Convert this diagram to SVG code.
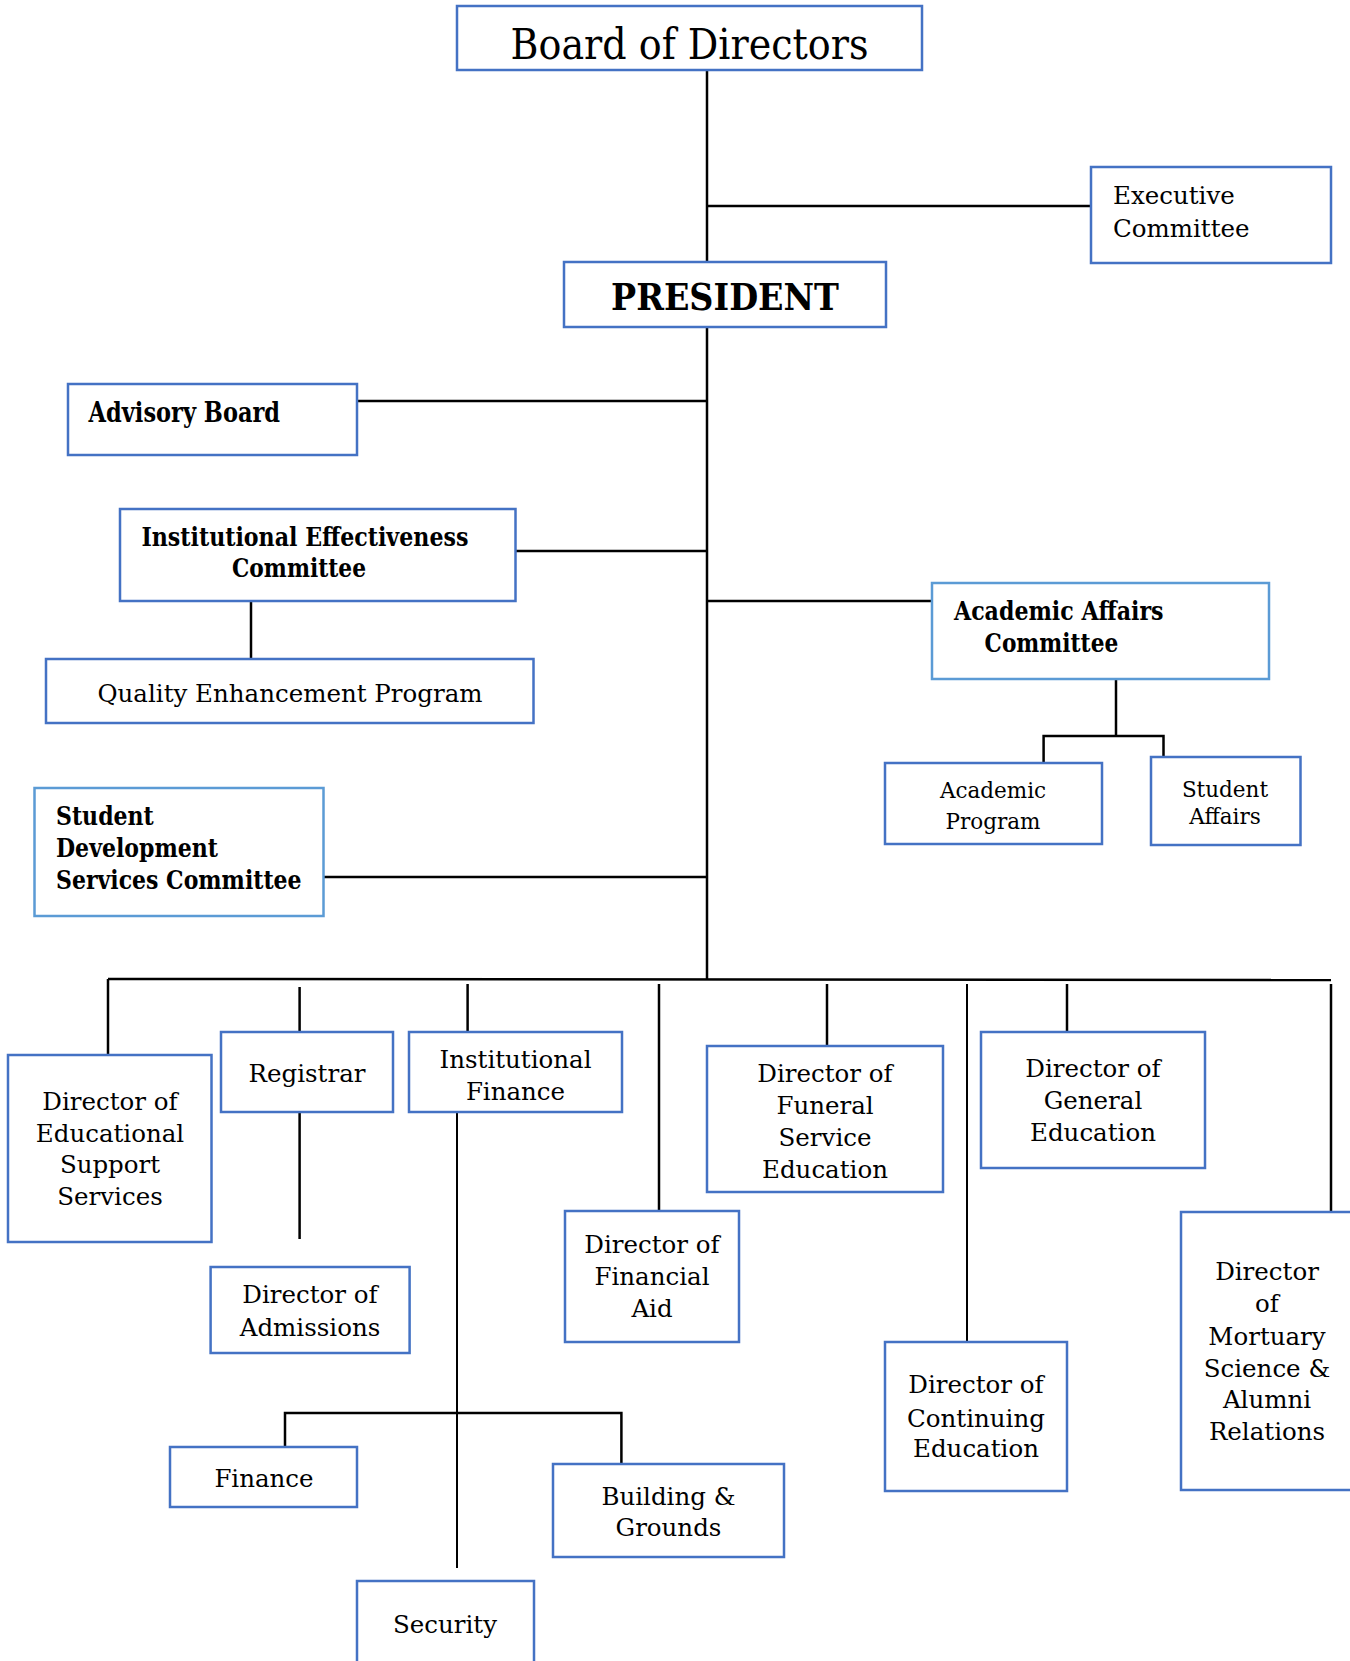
<svg xmlns="http://www.w3.org/2000/svg" width="1350" height="1661" viewBox="0 0 1350 1661">
<style>
.box{fill:#fff;stroke:#4472c4;stroke-width:2.5}
.lbox{fill:#fff;stroke:#5b9bd5;stroke-width:2.5}
.t{font-family:"DejaVu Serif","Liberation Serif",serif;font-size:24.5px;fill:#000}
.c{text-anchor:middle}
.b{font-weight:bold;font-size:26px}
.s{font-size:21.5px}
.ln{stroke:#000;stroke-width:2.5;fill:none}
</style>
<rect width="1350" height="1661" fill="#fff"/>
<g id="connectors">
<path class="ln" d="M707,70V262"/>
<path class="ln" d="M707,206H1091"/>
<path class="ln" d="M707,327V980"/>
<path class="ln" d="M357,401H707"/>
<path class="ln" d="M515,551H707"/>
<path class="ln" d="M251,601V659"/>
<path class="ln" d="M707,601H932"/>
<path class="ln" d="M1116,679V736"/>
<path class="ln" d="M1043.6,763V736H1163.5V757"/>
<path class="ln" d="M324,877H707"/>
<path class="ln" d="M108,979L1331,980"/>
<path class="ln" d="M108,979V1055"/>
<path class="ln" d="M299.6,987V1032"/>
<path class="ln" d="M299.6,1112V1239"/>
<path class="ln" d="M467.6,984V1032"/>
<path class="ln" d="M457,1112V1568" style="stroke-width:2"/>
<path class="ln" d="M285,1447V1413H621.4V1464"/>
<path class="ln" d="M659,984V1211"/>
<path class="ln" d="M827,984V1046"/>
<path class="ln" d="M967,984V1342" style="stroke-width:2"/>
<path class="ln" d="M1067,984V1032"/>
<path class="ln" d="M1331,984V1211"/>
</g>
<g id="board"><rect class="box" x="457" y="6" width="465" height="64"/><text class="t c" x="689.5" y="59" style="font-size:42px" textLength="358" lengthAdjust="spacingAndGlyphs">Board of Directors</text></g>
<g id="president"><rect class="box" x="564" y="262" width="322" height="65"/><text class="t c b" x="725" y="310" style="font-size:37px" textLength="228" lengthAdjust="spacingAndGlyphs">PRESIDENT</text></g>
<g id="executive"><rect class="box" x="1091" y="167" width="240" height="96"/><text class="t" x="1113" y="204">Executive</text><text class="t" x="1113" y="237">Committee</text></g>
<g id="advisory"><rect class="box" x="68" y="384" width="289" height="71"/><text class="t b" x="88.6" y="421.7" style="font-size:27px" textLength="191.5" lengthAdjust="spacingAndGlyphs">Advisory Board</text></g>
<g id="iec"><rect class="box" x="120" y="509" width="395.5" height="92"/><text class="t b" x="141.4" y="545.7" textLength="327" lengthAdjust="spacingAndGlyphs">Institutional Effectiveness</text><text class="t b" x="232" y="577.3" textLength="134" lengthAdjust="spacingAndGlyphs">Committee</text></g>
<g id="qep"><rect class="box" x="46" y="659" width="487.5" height="64"/><text class="t c" x="290" y="701.7">Quality Enhancement Program</text></g>
<g id="academic-affairs"><rect class="lbox" x="932" y="583" width="337" height="96"/><text class="t b" x="954" y="620" textLength="209.5" lengthAdjust="spacingAndGlyphs">Academic Affairs</text><text class="t b" x="984.6" y="651.7" textLength="133.7" lengthAdjust="spacingAndGlyphs">Committee</text></g>
<g id="academic-program"><rect class="box" x="885" y="763" width="217" height="81"/><text class="t c s" x="993" y="798.3">Academic</text><text class="t c s" x="993" y="829.3">Program</text></g>
<g id="student-affairs"><rect class="box" x="1151" y="757" width="149.5" height="88"/><text class="t c s" x="1225" y="796.7">Student</text><text class="t c s" x="1225" y="824.3">Affairs</text></g>
<g id="sdsc"><rect class="lbox" x="34.5" y="788" width="289" height="128"/><text class="t b" x="56" y="825" textLength="97.8" lengthAdjust="spacingAndGlyphs">Student</text><text class="t b" x="56" y="857.3" textLength="162" lengthAdjust="spacingAndGlyphs">Development</text><text class="t b" x="56" y="889" textLength="245.6" lengthAdjust="spacingAndGlyphs">Services Committee</text></g>
<g id="dir-educational"><rect class="box" x="8" y="1055" width="203.5" height="187"/><text class="t c" x="110" y="1110">Director of</text><text class="t c" x="110" y="1141.7">Educational</text><text class="t c" x="110" y="1173.3">Support</text><text class="t c" x="110" y="1205">Services</text></g>
<g id="registrar"><rect class="box" x="221" y="1032" width="172" height="80"/><text class="t c" x="307" y="1081.7">Registrar</text></g>
<g id="inst-finance"><rect class="box" x="409" y="1032" width="213" height="80"/><text class="t c" x="515.5" y="1068.3">Institutional</text><text class="t c" x="515.5" y="1100">Finance</text></g>
<g id="admissions"><rect class="box" x="210.6" y="1267" width="199" height="86"/><text class="t c" x="310" y="1303.3">Director of</text><text class="t c" x="310" y="1335.7">Admissions</text></g>
<g id="financial-aid"><rect class="box" x="565" y="1211" width="174" height="131"/><text class="t c" x="652" y="1252.7">Director of</text><text class="t c" x="652" y="1285">Financial</text><text class="t c" x="652" y="1317.3">Aid</text></g>
<g id="funeral"><rect class="box" x="707" y="1046" width="236" height="146"/><text class="t c" x="825" y="1081.7">Director of</text><text class="t c" x="825" y="1114">Funeral</text><text class="t c" x="825" y="1146">Service</text><text class="t c" x="825" y="1178.3">Education</text></g>
<g id="general"><rect class="box" x="981" y="1032" width="224" height="136"/><text class="t c" x="1093" y="1076.7">Director of</text><text class="t c" x="1093" y="1109">General</text><text class="t c" x="1093" y="1141">Education</text></g>
<g id="continuing"><rect class="box" x="885" y="1342" width="182" height="149"/><text class="t c" x="976" y="1393.3">Director of</text><text class="t c" x="976" y="1426.7">Continuing</text><text class="t c" x="976" y="1457.3">Education</text></g>
<g id="mortuary"><rect class="box" x="1181" y="1212" width="171" height="278"/><text class="t c" x="1267" y="1280">Director</text><text class="t c" x="1267" y="1311.7">of</text><text class="t c" x="1267" y="1345">Mortuary</text><text class="t c" x="1267" y="1376.7">Science &amp;</text><text class="t c" x="1267" y="1408.3">Alumni</text><text class="t c" x="1267" y="1440">Relations</text></g>
<g id="finance"><rect class="box" x="170" y="1447" width="187" height="60"/><text class="t c" x="264" y="1486.7">Finance</text></g>
<g id="building"><rect class="box" x="553" y="1464" width="231" height="93"/><text class="t c" x="668.5" y="1505">Building &amp;</text><text class="t c" x="668.5" y="1536">Grounds</text></g>
<g id="security"><rect class="box" x="357" y="1581" width="177" height="100"/><text class="t c" x="445" y="1633">Security</text></g>
</svg>
